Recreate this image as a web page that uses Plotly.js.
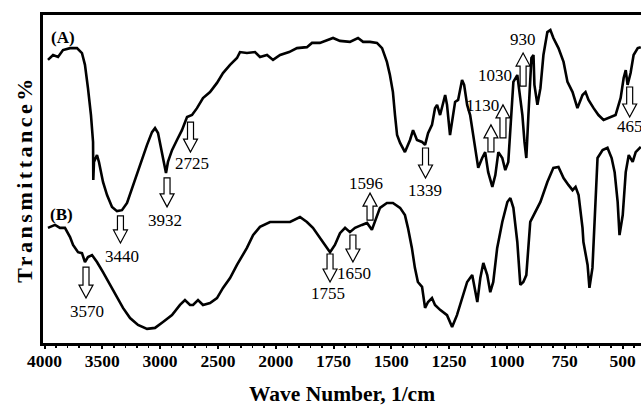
<!DOCTYPE html>
<html>
<head>
<meta charset="utf-8">
<script src="https://cdn.plot.ly/plotly-3.0.1.min.js"></script>
<style>html,body{margin:0;padding:0;background:#fff;}#chart{width:641px;height:406px;}</style>
</head>
<body>
<div id="chart"></div>
<script>
// Spectrum (A): wavenumber (1/cm) and transmittance (arb. %)
const wnA = [3970,3926,3883,3840,3779,3719,3676,3650,3624,3598,3580,3578,3572,3546,3529,3494,3459,3416,3373,3330,3286,3234,3174,3113,3070,3044,3018,2984,2966,2949,2932,2897,2854,2811,2767,2724,2681,2629,2568,2508,2456,2395,2335,2309,2249,2179,2136,2075,2023,1981,1942,1908,1865,1843,1809,1778,1752,1722,1679,1644,1622,1592,1562,1540,1519,1506,1493,1484,1475,1462,1441,1419,1406,1389,1367,1354,1341,1324,1311,1302,1289,1267,1259,1246,1233,1224,1211,1194,1185,1172,1159,1146,1133,1124,1107,1094,1081,1063,1050,1037,1020,1007,994,981,972,955,946,933,924,916,907,894,885,881,868,855,842,825,812,799,777,755,738,716,695,673,660,647,625,604,582,560,530,508,495,486,478,465,452,434,421];
const tA = [86.3,87.8,87.2,89.3,89.9,89.9,88.4,84.8,77.7,69.5,61.3,49.7,55.2,57.3,55.2,49.1,45.1,41.5,40.2,40.5,42.7,48.2,54.3,60.4,64.3,65.5,64.0,58.2,55.2,51.8,55.2,58.8,61.9,64.9,68.9,69.5,71.6,74.7,76.5,79.3,82.3,84.8,86.9,88.7,88.4,88.7,87.2,87.8,86.3,87.8,88.7,89.9,90.2,91.5,91.5,92.4,93.0,92.1,91.8,93.0,91.8,91.8,91.5,89.9,85.7,81.7,76.5,69.5,63.4,61.0,58.2,61.9,64.9,61.9,61.3,60.4,64.0,66.5,71.6,72.6,69.5,75.6,72.6,63.4,69.5,73.5,74.1,80.2,78.7,72.6,69.5,63.4,57.3,53.4,56.4,58.2,52.1,47.6,51.2,58.2,56.4,52.7,55.2,70.4,79.6,81.7,76.5,69.5,61.3,56.4,69.5,86.9,87.8,78.7,72.6,77.7,87.8,94.8,95.4,93.0,89.9,85.7,79.6,76.5,71.6,75.6,76.5,74.1,71.6,69.5,68.0,68.6,69.5,74.7,80.8,83.2,78.7,82.3,87.8,89.9,90.2];

// Spectrum (B)
const wnB = [3970,3909,3866,3823,3779,3753,3710,3676,3650,3624,3589,3546,3494,3433,3373,3321,3260,3191,3113,3044,2975,2897,2828,2785,2741,2715,2672,2629,2568,2508,2456,2395,2335,2309,2249,2196,2136,2049,1981,1938,1895,1865,1839,1809,1787,1765,1744,1722,1700,1679,1657,1627,1605,1584,1571,1549,1519,1493,1462,1441,1428,1411,1398,1385,1367,1354,1341,1324,1311,1289,1259,1237,1216,1194,1172,1150,1137,1128,1115,1102,1085,1072,1059,1042,1020,998,985,972,955,942,929,916,899,877,855,825,799,777,755,734,716,703,690,673,669,651,643,630,617,608,586,565,547,534,521,513,499,486,473,456,443,421];
const tB = [35.1,36.0,35.1,35.1,32.3,29.9,27.7,27.4,24.7,26.2,26.8,24.7,21.6,17.7,13.7,10.7,7.6,5.5,4.3,4.6,6.4,8.5,11.6,13.1,11.6,11.6,13.1,11.6,12.2,13.7,16.8,19.8,23.8,25.3,29.0,32.9,35.4,36.9,36.9,36.9,38.4,36.9,35.1,32.3,29.9,27.7,29.9,33.5,35.1,33.8,35.1,36.0,36.6,34.5,36.9,41.2,42.7,42.7,41.2,39.0,35.1,29.0,22.9,18.6,17.1,10.7,12.5,13.7,11.6,10.1,8.5,4.9,8.5,13.7,18.6,20.7,15.5,12.5,19.8,24.4,20.7,15.5,18.6,29.0,36.9,43.0,44.2,41.2,30.8,17.7,18.6,20.7,36.9,39.9,43.0,49.1,53.4,53.7,50.3,48.2,46.6,47.6,45.1,35.1,30.8,23.8,16.8,22.9,43.0,56.4,58.8,59.5,56.4,52.1,43.0,32.9,39.0,52.1,57.3,55.2,58.2,59.8];

// Axis tick labels (wavenumber)
const tickWn = [4000,3500,3000,2500,2000,1750,1500,1250,1000,750,500];

// Peak markers: label, arrow wavenumber, arrow tip level, direction, arrow length, label position
const peakLabels = ["3440","3570","3932","2725","1339","1596","1650","1755","1130","1030","930","465"];
const arrowWn    = [3343,3641,2940,2737,1352,1592,1666,1765,1069,1017,930,469];
const arrowT     = [30.5,13.7,41.5,58.2,50.3,45.7,24.7,18.6,66.5,72.6,88.4,68.9];
const arrowDir   = ["down","down","down","down","down","up","down","down","up","up","up","down"];
const arrowLen   = [27,31,29,30,30,27,27,28,27,33,33,30];
const labelWn    = [3330,3632,2958,2724,1354,1609,1661,1774,1106,1050,930,469];
const labelT     = [26.5,9.5,37.5,54.6,46.6,48.5,21.3,15.2,72.3,81.7,92.4,65.9];

// Scale break: 4000-2000 at 500 per unit, 2000-400 at 250 per unit
function toU(w){ return w >= 2000 ? (4000 - w)/500 : 4 + (2000 - w)/250; }

const serif = "Liberation Serif, Times New Roman, serif";

const traces = [
  {x: wnA.map(toU), y: tA, mode: "lines", line: {color: "#000", width: 2.6}, hoverinfo: "skip"},
  {x: wnB.map(toU), y: tB, mode: "lines", line: {color: "#000", width: 2.6}, hoverinfo: "skip"}
];

function arrowPath(dir, L){
  const s = dir === "down" ? 1 : -1;
  const h = 13*s, l = L*s;
  return `M0,0 L-7,${h} L-3,${h} L-3,${l} L3,${l} L3,${h} L7,${h} Z`;
}

const shapes = peakLabels.map((_, i) => ({
  type: "path", xref: "x", yref: "y",
  xsizemode: "pixel", ysizemode: "pixel",
  xanchor: toU(arrowWn[i]), yanchor: arrowT[i],
  path: arrowPath(arrowDir[i], arrowLen[i]),
  fillcolor: "#fff", line: {color: "#000", width: 1.2}
}));

const annotations = peakLabels.map((t, i) => ({
  text: t, x: toU(labelWn[i]), y: labelT[i], xref: "x", yref: "y",
  showarrow: false, font: {family: serif, size: 17, color: "#000"}
}));
annotations.push({text: "<b>(A)</b>", x: toU(3840), y: 93.0, xref: "x", yref: "y", showarrow: false,
  font: {family: serif, size: 17, color: "#000"}});
annotations.push({text: "<b>(B)</b>", x: toU(3857), y: 39.3, xref: "x", yref: "y", showarrow: false,
  font: {family: serif, size: 17, color: "#000"}});

const minorVals = [];
for (let k = 0; k <= 52; k++) minorVals.push(k*0.2);

const layout = {
  width: 641, height: 406,
  margin: {l: 43, r: 0, t: 15, b: 63},
  paper_bgcolor: "#fff", plot_bgcolor: "#fff",
  showlegend: false,
  xaxis: {
    range: [toU(4000) - 0.026, 10.32],
    tickmode: "array", tickvals: tickWn.map(toU), ticktext: tickWn.map(String),
    ticks: "outside", ticklen: 3, tickwidth: 2, tickcolor: "#000",
    ticklabelstandoff: -3,
    minor: {tickmode: "array", tickvals: minorVals, ticks: "outside", ticklen: 2, tickwidth: 1.5, tickcolor: "#000"},
    showline: true, linewidth: 3, linecolor: "#000", mirror: true,
    showgrid: false, zeroline: false,
    tickfont: {family: serif, size: 17.5, color: "#000", weight: "bold"},
    title: {text: "<b>Wave Number, 1/cm</b>", font: {family: serif, size: 21.5, color: "#000"}, standoff: 19},
    automargin: false
  },
  yaxis: {
    range: [0, 100],
    showticklabels: false, ticks: "",
    showline: true, linewidth: 3, linecolor: "#000", mirror: false,
    showgrid: false, zeroline: false,
    title: {text: "<b><span style=\"letter-spacing:3.5px\">Transmittance%</span></b>", font: {family: serif, size: 22, color: "#000"}, standoff: 2},
    automargin: false
  },
  shapes: shapes,
  annotations: annotations
};

Plotly.newPlot("chart", traces, layout, {staticPlot: true, displayModeBar: false});
</script>
</body>
</html>
